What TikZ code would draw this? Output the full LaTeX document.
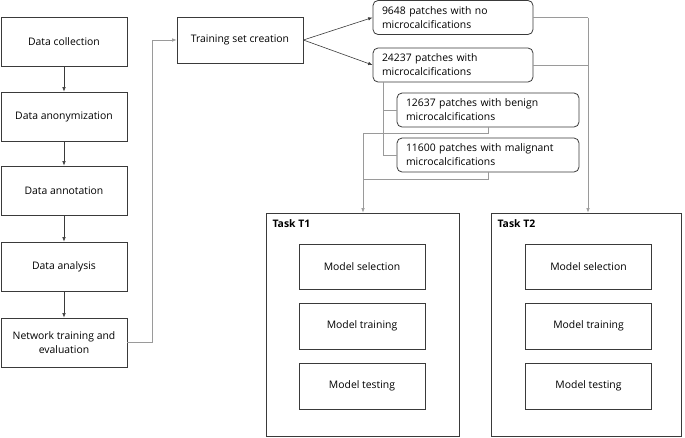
\documentclass[tikz,border=0pt]{standalone}
\usepackage{fontspec}
\setmainfont{Open Sans}
\usetikzlibrary{arrows.meta}
\definecolor{boxline}{HTML}{3A3A3A}
\definecolor{lightline}{HTML}{9A9A9A}
\begin{document}
\begin{tikzpicture}[x=1pt,y=-1pt,
  font=\fontsize{10.4}{14}\selectfont,
  sqbox/.style={draw=boxline, line width=0.8pt, minimum width=126pt, minimum height=#1, inner sep=2pt, align=center},
  sqbox/.default=49pt,
  rbox/.style={draw=boxline, line width=0.8pt, rounded corners=5pt, minimum height=34pt, text width=#1, inner sep=0pt, inner xsep=9pt, align=left},
  task/.style={draw=boxline, line width=0.8pt, minimum width=#1, minimum height=223pt, inner sep=0pt},
  tasklabel/.style={font=\fontsize{10.4}{14}\selectfont\bfseries, anchor=north west},
  arr/.style={-{Latex[length=4.5pt,width=3.5pt]}, color=boxline, line width=0.6pt},
  garr/.style={-{Latex[length=4.5pt,width=3.5pt]}, draw=lightline, line width=0.6pt},
  gline/.style={draw=lightline, line width=0.6pt}
]
\useasboundingbox (0,0) rectangle (685,437);
% left column
\node[sqbox] (dc) at (64,41.5) {Data collection};
\node[sqbox] (dan) at (64,116.5) {Data anonymization};
\node[sqbox] (dat) at (64,190.5) {Data annotation};
\node[sqbox] (dal) at (64,266.5) {Data analysis};
\node[sqbox] (nt) at (64,342.5) {Network training and\\evaluation};
\draw[arr] (dc) -- (dan);
\draw[arr] (dan) -- (dat);
\draw[arr] (dat) -- (dal);
\draw[arr] (dal) -- (nt);
% training set
\node[sqbox=46pt] (ts) at (240,40) {Training set creation};
\draw[garr] (nt.east) -- (152,342.5) -- (152,40) -- (ts.west);
% patches
\node[rbox=142pt] (p1) at (453,17.5) {9648 patches with no\\microcalcifications};
\node[rbox=142pt] (p2) at (453,65) {24237 patches with\\microcalcifications};
\node[rbox=164pt] (p3) at (488,110) {12637 patches with benign\\microcalcifications};
\node[rbox=164pt] (p4) at (488,155) {11600 patches with malignant\\microcalcifications};
\draw[arr] (ts.east) -- (p1.west);
\draw[arr] (ts.east) -- (p2.west);
\draw[gline] (p2.south -| 383,0) -- (383,155) -- (p4.west);
\draw[gline] (383,110) -- (p3.west);
% tasks
\node[task=193pt] (t1) at (362.5,324.5) {};
\node[task=190pt] (t2) at (586.5,324.5) {};
\node[tasklabel] (t1l) at (269,216) {Task T1};
\node[tasklabel] (t2l) at (494,216) {Task T2};
\node[sqbox=45pt] (s1) at (362,266.5) {Model selection};
\node[sqbox=46pt] (r1) at (362,326) {Model training};
\node[sqbox=46pt] (e1) at (362,386) {Model testing};
\node[sqbox=45pt] (s2) at (588.5,266.5) {Model selection};
\node[sqbox=46pt] (r2) at (588.5,326) {Model training};
\node[sqbox=46pt] (e2) at (588.5,386) {Model testing};
% joins into tasks
\coordinate (j1) at (363,133);
\draw[gline] (p3.south) -- (488,133) -- (j1);
\draw[gline] (p4.south) -- (488,179) -- (363,179);
\draw[garr] (j1) -- (j1 |- t1.north);
\coordinate (j2) at (588,17.5);
\draw[gline] (p1.east) -- (j2);
\draw[gline] (p2.east) -- (588,65);
\draw[garr] (j2) -- (j2 |- t2.north);
\end{tikzpicture}
\end{document}
